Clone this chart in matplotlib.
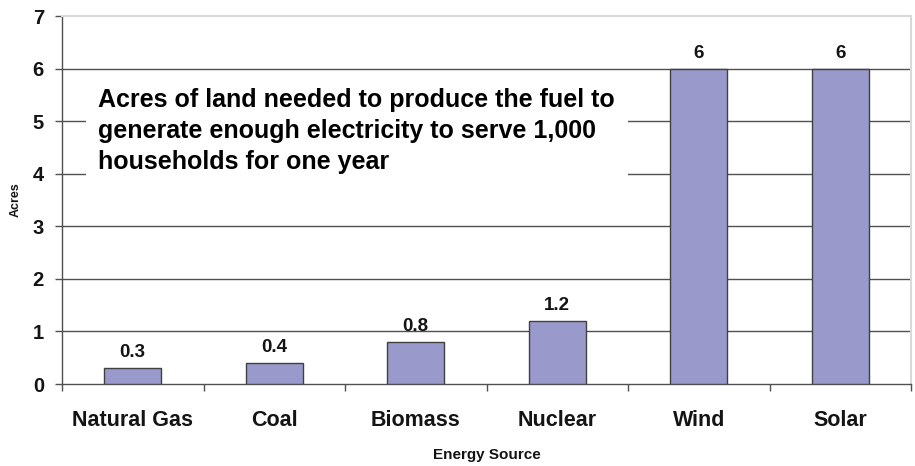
import matplotlib
matplotlib.use("Agg")
import matplotlib.pyplot as plt
from matplotlib.patches import Rectangle

# ── Data ────────────────────────────────────────────────────────────────────
sources = ["Natural Gas", "Coal", "Biomass", "Nuclear", "Wind", "Solar"]
acres   = [0.3, 0.4, 0.8, 1.2, 6, 6]
labels  = ["0.3", "0.4", "0.8", "1.2", "6", "6"]
yticks  = [0, 1, 2, 3, 4, 5, 6, 7]

NOTE = ("Acres of land needed to produce the fuel to\n"
        "generate enough electricity to serve 1,000\n"
        "households for one year")

BAR_COLOR  = "#9999cc"
EDGE_COLOR = "#404040"
GRID_COLOR = "#505050"
LIGHT      = "#d9d9d9"
TEXT       = "#141414"

plt.rcParams["font.family"] = ["Liberation Sans", "DejaVu Sans"]
plt.rcParams["font.weight"] = "bold"

fig = plt.figure(figsize=(9.15, 4.66), dpi=100)
ax = fig.add_axes([62 / 915, 82 / 466, 849 / 915, 368 / 466])

x = list(range(len(sources)))
ax.bar(x, acres, width=0.4, color=BAR_COLOR, edgecolor=EDGE_COLOR,
       linewidth=1.0, zorder=3)

for xi, v, lab in zip(x, acres, labels):
    ax.annotate(lab, (xi, v), xytext=(0, 5), textcoords="offset points",
                ha="center", va="bottom", fontsize=13.5, fontweight="bold",
                color=TEXT, zorder=4)

ax.set_xlim(-0.5, len(sources) - 0.5)
ax.set_ylim(0, 7)

# gridlines at 1..6 (top edge is a light spine)
for y in yticks[1:-1]:
    ax.axhline(y, color=GRID_COLOR, linewidth=1.0, zorder=1)

ax.set_yticks(yticks)
ax.set_yticklabels([str(t) for t in yticks], fontsize=14.5, fontweight="bold",
                   color=TEXT)
ax.tick_params(axis="y", direction="out", length=5, width=1.0,
               color=GRID_COLOR, pad=8)

ax.set_xticks(x)
ax.set_xticklabels(sources, fontsize=15.5, fontweight="bold", color=TEXT)
ax.tick_params(axis="x", which="major", length=0, pad=19)
ax.set_xticks([i - 0.5 for i in range(len(sources) + 1)], minor=True)
ax.tick_params(axis="x", which="minor", direction="out", length=5,
               width=1.0, color=GRID_COLOR)

for side in ("left", "bottom"):
    ax.spines[side].set_color(GRID_COLOR)
    ax.spines[side].set_linewidth(1.0)
for side in ("top", "right"):
    ax.spines[side].set_color(LIGHT)
    ax.spines[side].set_linewidth(1.5)

ax.set_ylabel("Acres", fontsize=9, fontweight="bold", color=TEXT, labelpad=8)
ax.set_xlabel("Energy Source", fontsize=11, fontweight="bold", color=TEXT,
              labelpad=12)

# white panel behind the note hides the gridlines
ax.add_patch(Rectangle((0.028, 0.549), 0.639, 0.255, transform=ax.transAxes,
                       facecolor="white", edgecolor="none", zorder=2))
ax.text(0.0424, 0.803, NOTE, transform=ax.transAxes, ha="left", va="top",
        fontsize=18, fontweight="bold", color="black", linespacing=1.36,
        zorder=4)

plt.savefig("out.png", dpi=100, facecolor="white")
plt.close()
